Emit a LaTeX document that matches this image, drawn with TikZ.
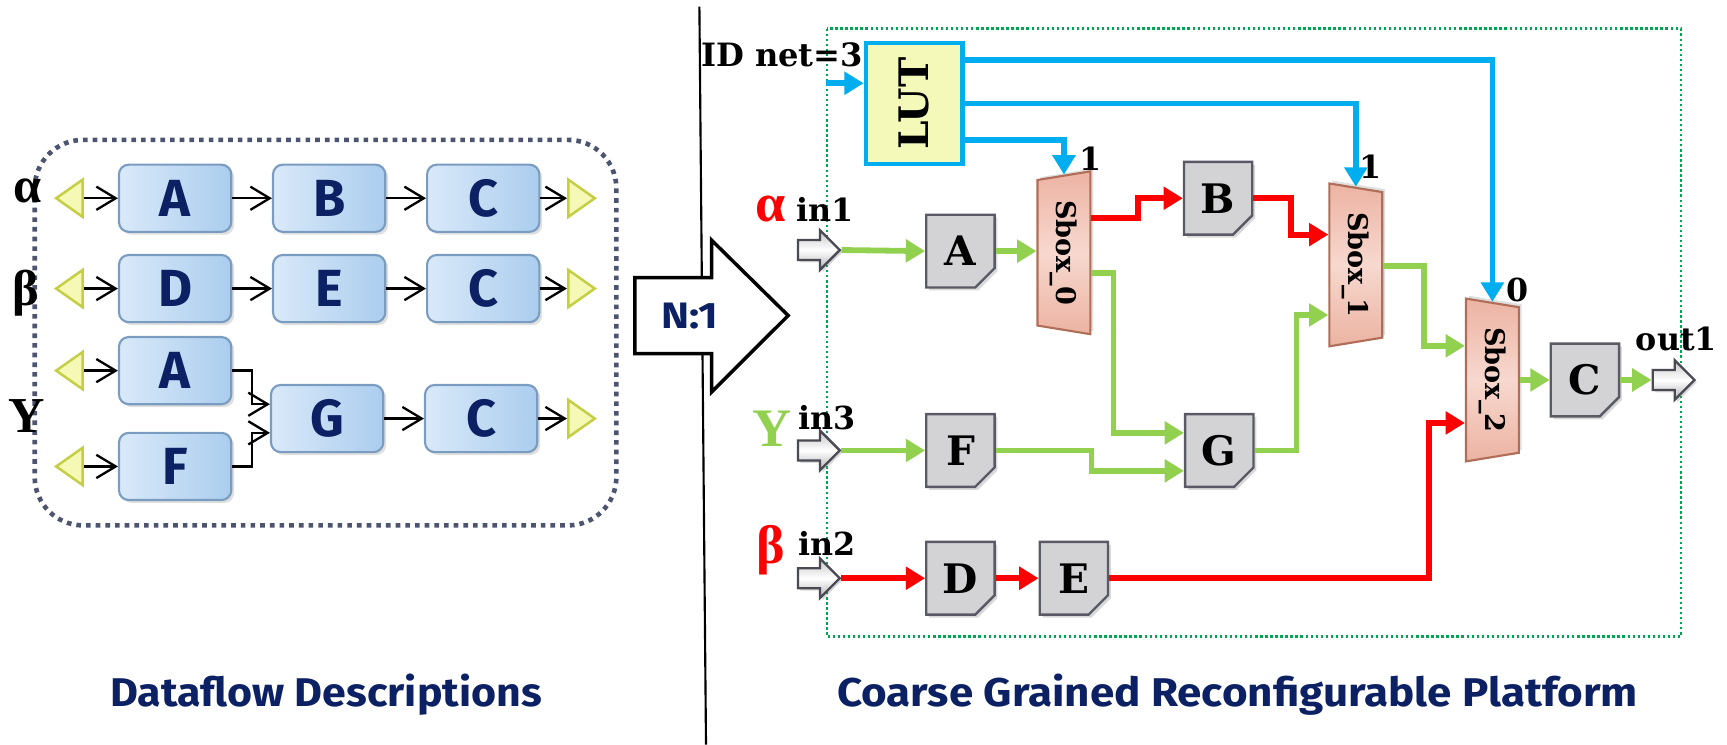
\documentclass[tikz,border=0pt]{standalone}
\usepackage{fontspec}
\usepackage{graphicx}
\usepackage{tikz}
\usetikzlibrary{shapes.geometric, shapes.arrows, shapes.misc, arrows.meta, positioning, calc, shadows}
\newfontfamily\headsans{Fira Sans}
\newfontfamily\greekserif{Liberation Serif}
\newfontfamily\labelserif{DejaVu Serif}
\definecolor{navytext}{HTML}{0C2163}
\definecolor{taskborder}{HTML}{7A9CC0}
\definecolor{tasklight}{HTML}{D9E9F9}
\definecolor{taskdark}{HTML}{ABCDEE}
\definecolor{portyellow}{HTML}{F6F8B6}
\definecolor{portedge}{HTML}{C5CF45}
\definecolor{framegray}{HTML}{4D5470}
\definecolor{framegreen}{HTML}{00A54F}
\definecolor{flowgreen}{HTML}{92D050}
\definecolor{flowred}{HTML}{FF0000}
\definecolor{ctrlcyan}{HTML}{00AEEF}
\definecolor{lutfill}{HTML}{F4F9B9}
\definecolor{pefill}{HTML}{D3D3D5}
\definecolor{peedge}{HTML}{5A5A66}
\definecolor{sboxlight}{HTML}{F7D8CF}
\definecolor{sboxdark}{HTML}{ECB3A2}
\definecolor{sboxedge}{HTML}{B06E58}
\definecolor{ioedge}{HTML}{4A4A55}

\begin{document}
\begin{tikzpicture}[
    x=0.02cm, y=-0.02cm,
    node distance=20.5pt,
    taskbox/.style={rectangle, rounded corners=5pt, draw=taskborder, line width=1.1pt, left color=tasklight, right color=taskdark, minimum width=58pt, minimum height=34.7pt, inner sep=0pt, font=\headsans\bfseries\fontsize{27}{29}\selectfont, text=navytext, drop shadow={shadow xshift=1.5pt, shadow yshift=-1.5pt, opacity=0.25}},
    inport/.style={isosceles triangle, isosceles triangle stretches, shape border rotate=180, minimum width=19.3pt, minimum height=13.7pt, inner sep=0pt, draw=portedge, fill=portyellow, line width=1.3pt},
    outport/.style={inport, shape border rotate=0},
    link/.style={line width=1.2pt, -{Straight Barb[length=10pt, width=12pt]}},
    greeklabel/.style={font=\greekserif\bfseries\fontsize{26}{28}\selectfont, anchor=base},
    pebox/.style={chamfered rectangle, chamfered rectangle corners=south east, chamfered rectangle xsep=5pt, chamfered rectangle ysep=5pt, draw=peedge, fill=pefill, line width=1.2pt, minimum width=35.3pt, minimum height=37.6pt, inner sep=0pt, font=\labelserif\bfseries\fontsize{21}{23}\selectfont, drop shadow={shadow xshift=1.5pt, shadow yshift=-1.5pt, opacity=0.3},
        path picture={\draw[peedge, fill=white!75!pefill, line width=0.8pt] ([xshift=-5pt]path picture bounding box.south east) -- ++(0pt,5pt) -- ++(5pt,0pt);}},
    sboxmux/.style={trapezium, trapezium stretches=true, trapezium left angle=77, trapezium right angle=77, minimum width=84.5pt, minimum height=27.3pt, rotate=-90, inner sep=0pt, draw=sboxedge, line width=1.1pt, top color=sboxdark, bottom color=sboxdark, middle color=sboxlight, font=\labelserif\bfseries\fontsize{14}{16}\selectfont, drop shadow={shadow xshift=1.5pt, shadow yshift=1.5pt, opacity=0.25}},
    sboxdemux/.style={sboxmux, trapezium left angle=103, trapezium right angle=103},
    lutbox/.style={rectangle, draw=ctrlcyan, line width=2.2pt, fill=lutfill, minimum width=50pt, minimum height=62.6pt, font=\labelserif\bfseries\fontsize{21}{23}\selectfont},
    io/.style={single arrow, single arrow head extend=5.1pt, minimum height=21.6pt, inner xsep=0pt, inner ysep=4.55pt, draw=ioedge, line width=1.2pt, top color=gray!45, bottom color=gray!60, middle color=white, drop shadow={shadow xshift=1.2pt, shadow yshift=-1.2pt, opacity=0.3}},
    portlabel/.style={font=\labelserif\bfseries\fontsize{16.4}{18}\selectfont, anchor=base},
    flow/.style={line width=3pt, -{Triangle[length=10pt, width=11.5pt]}},
    greenflow/.style={flow, draw=flowgreen},
    redflow/.style={flow, draw=flowred},
    ctrlflow/.style={flow, draw=ctrlcyan},
    caption/.style={font=\headsans\bfseries, text=navytext, anchor=base}
]
\useasboundingbox (0,0) rectangle (1568,676);

\draw[line width=1.1pt] (635,6) -- (641,676);

\draw[draw=framegray, line width=2.4pt, dash pattern=on 2.4pt off 2.6pt, rounded corners=25pt] (31.5,127) rectangle (559.6,477);

\node[taskbox] (a1) at (159,180) {A};
\node[taskbox, right=of a1] (b1) {B};
\node[taskbox, right=of b1] (c1) {C};
\node[taskbox] (d2) at (159,262) {D};
\node[taskbox, right=of d2] (e2) {E};
\node[taskbox, right=of e2] (c2) {C};
\node[taskbox] (a3) at (159,336.5) {A};
\node[taskbox] (f3) at (159,423.5) {F};
\node[taskbox] (g3) at (297,380) {G};
\node[taskbox, right=of g3] (c3) {C};

\node[inport, anchor=apex] (i1) at (48,180) {};
\node[inport, anchor=apex] (i2) at (48,262) {};
\node[inport, anchor=apex] (i3) at (48,336.5) {};
\node[inport, anchor=apex] (i4) at (48,423.5) {};
\node[outport, anchor=apex] (o1) at (543,180) {};
\node[outport, anchor=apex] (o2) at (543,262) {};
\node[outport, anchor=apex] (o3) at (543,380) {};

\node[greeklabel] (alphaL) at (25,184) {α};
\node[greeklabel] (betaL) at (23,277.5) {β};
\node[greeklabel] (gammaL) at (24,393) {Y};

\draw[link] (i1) -- (a1);
\draw[link] (a1) -- (b1);
\draw[link] (b1) -- (c1);
\draw[link] (c1) -- (o1);
\draw[link] (i2) -- (d2);
\draw[link] (d2) -- (e2);
\draw[link] (e2) -- (c2);
\draw[link] (c2) -- (o2);
\draw[link] (i3) -- (a3);
\draw[link] (i4) -- (f3);
\draw[link] (a3.east) -- ++(18,0) |- (g3.west |- 0,367);
\draw[link] (f3.east) -- ++(18,0) |- (g3.west |- 0,393);
\draw[link] (g3) -- (c3);
\draw[link] (c3) -- (o3);

\draw[line width=1.8pt, fill=white] (576.5,252) -- (646,252) -- (646,218) -- (715.6,286.5) -- (646,356) -- (646,321) -- (576.5,321) -- cycle;
\node[font=\headsans\bfseries\fontsize{19}{21}\selectfont, text=navytext] (ratio) at (626,287) {\scalebox{1.15}[1]{N:1}};

\draw[draw=framegreen, line width=1.2pt, dash pattern=on 1.2pt off 1.4pt] (750.6,26) rectangle (1526,578);

\node[lutbox] (lut) at (830,94) {\rotatebox{90}{LUT}};
\node[portlabel, font=\labelserif\bfseries\fontsize{16.6}{18}\selectfont] (idnet) at (710,60.5) {ID net=3};

\node[pebox] (pa) at (872,228) {A};
\node[pebox] (pb) at (1106,180) {B};
\node[pebox] (pf) at (872,409) {F};
\node[pebox] (pg) at (1107,409) {G};
\node[pebox] (pd) at (872,525) {D};
\node[pebox] (pe) at (975,525) {E};
\node[pebox] (pc) at (1439,345) {C};

\node[sboxdemux] (sb0) at (966,229.5) {Sbox\_0};
\node[sboxmux] (sb1) at (1231,240.5) {Sbox\_1};
\node[sboxmux] (sb2) at (1355,345) {Sbox\_2};

\node[io, anchor=tip] (in1) at (764,227) {};
\node[io, anchor=tip] (in3) at (764,409) {};
\node[io, anchor=tip] (in2) at (764,525) {};
\node[io, anchor=tip] (out1) at (1540,345) {};

\node[portlabel] (lin1) at (749,201.3) {in1};
\node[portlabel] (lin3) at (750.5,390.4) {in3};
\node[portlabel] (lin2) at (750.5,504) {in2};
\node[portlabel] (lout1) at (1522,318.4) {out1};
\node[greeklabel, font=\greekserif\bfseries\fontsize{28}{30}\selectfont, text=flowred] (alphaR) at (700,201) {α};
\node[greeklabel, font=\greekserif\bfseries\fontsize{28}{30}\selectfont, text=flowgreen] (gammaR) at (701,405) {Y};
\node[greeklabel, font=\greekserif\bfseries\fontsize{28}{30}\selectfont, text=flowred] (betaR) at (700,512) {β};
\node[portlabel] (sel0) at (990,154.4) {1};
\node[portlabel] (sel1) at (1244,161.7) {1};
\node[portlabel] (sel2) at (1378,274) {0};

\coordinate (idin) at (750,75.6);
\draw[ctrlflow] (idin) -- (lut.west |- idin);
\draw[ctrlflow] (lut.east |- 0,54.5) -| (sb2);
\draw[ctrlflow] (lut.east |- 0,94) -| (sb1);
\draw[ctrlflow] (lut.east |- 0,127) -| (sb0);

\draw[greenflow] (in1.tip) -- (pa.west);
\draw[greenflow] (pa.east) -- (pa.east -| sb0.south);
\draw[redflow] (sb0.north |- 0,198) -- ++(42,0) |- (pb.west);
\draw[greenflow] (sb0.north |- 0,248) -- ++(20,0) |- (pg.west |- 0,393);
\draw[greenflow] (in3.tip) -- (pf.west);
\draw[greenflow] (pf.east) -- ++(87,0) |- (pg.west |- 0,427.5);
\draw[greenflow] (pg.east) -- ++(38,0) |- (sb1.south |- 0,286);
\draw[redflow] (pb.east) -- ++(34,0) |- (sb1.south |- 0,213);
\draw[greenflow] (sb1.north |- 0,241.5) -- ++(37,0) |- (sb2.south |- 0,314);
\draw[redflow] (in2.tip) -- (pd.west);
\draw[redflow] (pd.east) -- (pe.west);
\draw[redflow] (pe.east) -- ++(290.5,0) |- (sb2.south |- 0,384);
\draw[greenflow] (sb2.north |- pc.west) -- (pc.west);
\draw[greenflow] (pc.east) -- (out1.tail);

\node[caption] (dfcap) at (296,641.6) {\resizebox{223pt}{16.8pt}{Dataflow Descriptions}};
\node[caption] (cgcap) at (1123.5,641.6) {\resizebox{413.7pt}{16.8pt}{Coarse Grained Reconfigurable Platform}};
\end{tikzpicture}
\end{document}
